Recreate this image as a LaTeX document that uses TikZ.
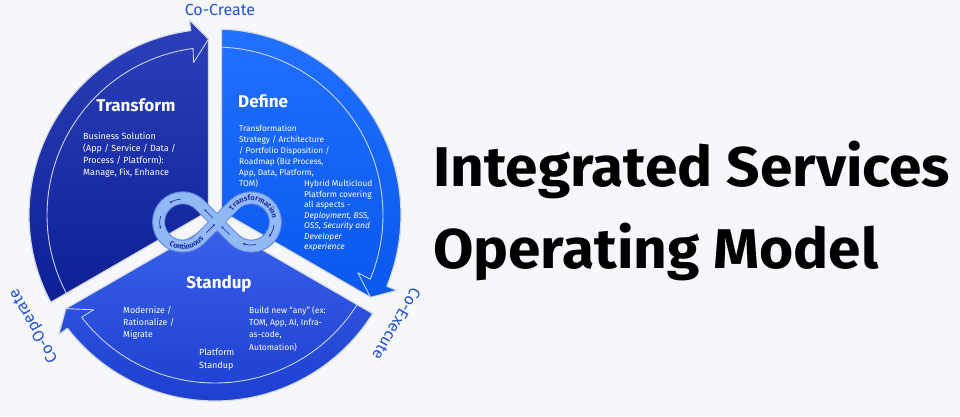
\documentclass[tikz,border=0pt]{standalone}
\usepackage{fontspec}
\setmainfont{Fira Sans}
\usepackage{xcolor}
\usetikzlibrary{arrows.meta, decorations.text}

\definecolor{bgcol}{HTML}{F5F7FA}
\definecolor{trtop}{HTML}{2C40BA}
\definecolor{trbot}{HTML}{0C1F94}
\definecolor{dftop}{HTML}{2270FF}
\definecolor{dfbot}{HTML}{0A58EC}
\definecolor{sutop}{HTML}{3A62EA}
\definecolor{subot}{HTML}{1C3FCF}
\definecolor{edgecol}{HTML}{D3D8E4}
\definecolor{linecol}{HTML}{C5D3F5}
\definecolor{cocol}{HTML}{2352D6}
\definecolor{loopfill}{HTML}{93B8F6}
\definecolor{loopedge}{HTML}{5A86E2}
\definecolor{loopink}{HTML}{1A2F9E}

\begin{document}
\begin{tikzpicture}[x=1pt, y=1pt]
    % Define styles
    \tikzstyle{wedgeedge} = [draw=edgecol, line width=1.2pt, line join=round]
    \tikzstyle{innerline} = [draw=linecol, line width=0.9pt, line join=round]
    \tikzstyle{phasetitle} = [text=white, inner sep=0pt, font=\fontsize{17}{20}\selectfont\bfseries]
    \tikzstyle{detail} = [text=white, align=left, anchor=north west, inner sep=0pt]
    \tikzstyle{cylabel} = [text=cocol, inner sep=0pt, font=\fontsize{16}{18}\selectfont]
    \tikzstyle{headline} = [anchor=base west, inner sep=0pt, font=\fontsize{56}{60}\selectfont\bfseries]
    \tikzstyle{looparrow} = [draw=loopink, line width=0.7pt, -{Stealth[length=2.6pt, width=2.4pt]}]

    % Background
    \fill[bgcol] (-215,-201) rectangle (745,215);

    % Transform wedge
    \path[wedgeedge, top color=trtop, bottom color=trbot] (150:7.5) -- (208:186) arc[start angle=208, end angle=97.5, radius=186] -- (97.5:197) -- (92.1:176.1) -- cycle;
    \draw[innerline] (207.8:168) arc[start angle=207.8, end angle=97.5, radius=168] -- (98:154) -- (92.1:176.1);

    % Define wedge
    \path[wedgeedge, top color=dftop, bottom color=dfbot] (30:7.5) -- (88:186) arc[start angle=88, end angle=-22.5, radius=186] -- (-22.5:197) -- (-27.9:176.1) -- cycle;
    \draw[innerline] (87.8:168) arc[start angle=87.8, end angle=-22.5, radius=168] -- (-22:154) -- (-27.9:176.1);

    % Standup wedge
    \path[wedgeedge, top color=sutop, bottom color=subot] (-90:7.5) -- (-32:186) arc[start angle=-32, end angle=-142.5, radius=186] -- (-142.5:197) -- (-147.9:176.1) -- cycle;
    \draw[innerline] (-32.2:168) arc[start angle=-32.2, end angle=-142.5, radius=168] -- (-142:154) -- (-147.9:176.1);

    % Cycle labels
    \node[cylabel] (cocreate) at (5,205) {Co-Create};
    \node[cylabel, rotate=-120] (coexecute) at (-31:212) {Co-Execute};
    \node[cylabel, rotate=120] (cooperate) at (211.5:212) {Co-Operate};

    % Continuous transformation loop
    \coordinate (O) at (2,-7);
    \coordinate (rc) at (36.2,-7);
    \coordinate (lc) at (-32.2,-7);
    \draw[draw=loopfill, line width=11pt, line join=round, preaction={draw=loopedge, line width=13pt}] (O) -- ++(45:24.2) arc[start angle=135, end angle=-135, radius=24.2] -- (O) -- ++(135:24.2) arc[start angle=45, end angle=315, radius=24.2] -- cycle;
    \path[shift={(rc)}, decorate, decoration={text along path, text align=center, text={|\fontsize{7.4}{8}\selectfont\bfseries\color{loopink}|Transformation}}] (178:21.4) arc[start angle=178, end angle=-20, radius=21.4];
    \path[shift={(lc)}, decorate, decoration={text along path, text align=center, text={|\fontsize{7.4}{8}\selectfont\bfseries\color{loopink}|Continuous}}] (190:27.2) arc[start angle=190, end angle=370, radius=27.2];
    \draw[looparrow, shift={(lc)}] (95:23) arc[start angle=95, end angle=125, radius=23];
    \draw[looparrow, shift={(lc)}] (165:23) arc[start angle=165, end angle=197, radius=23];
    \draw[looparrow, shift={(O)}] (135:6) -- (135:18);
    \draw[looparrow, shift={(O)}] (225:15) -- (225:3);
    \draw[looparrow, shift={(O)}] (-45:18) -- (-45:6);
    \draw[looparrow, shift={(rc)}] (-8:23) arc[start angle=-8, end angle=-40, radius=23];
    \draw[looparrow, shift={(rc)}] (-78:23) arc[start angle=-78, end angle=-112, radius=23];

    % Transform texts
    \node[phasetitle] (transform) at (-79,110) {Transform};
    \node[detail, font=\fontsize{9}{12}\selectfont] (transformtext) at (-132,83) {Business Solution\\(App / Service / Data /\\Process / Platform):\\Manage, Fix, Enhance};

    % Define texts
    \node[phasetitle, anchor=west] (define) at (23,114) {Define};
    \node[detail, font=\fontsize{8.3}{11}\selectfont] (definetext) at (24,90) {Transformation\\Strategy / Architecture\\/ Portfolio Disposition /\\Roadmap (Biz Process,\\App, Data, Platform,\\TOM)};
    \node[detail, font=\fontsize{8.4}{10.5}\selectfont] (hybridtext) at (89,35) {Hybrid Multicloud\\Platform covering\\all aspects -\\\textit{Deployment, BSS,}\\\textit{OSS, Security and}\\\textit{Developer}\\\textit{experience}};

    % Standup texts
    \node[phasetitle] (standup) at (4,-69) {Standup};
    \node[detail, font=\fontsize{8.8}{12}\selectfont] (modernize) at (-92,-91) {Modernize /\\Rationalize /\\Migrate};
    \node[detail, font=\fontsize{8.5}{12.3}\selectfont] (buildnew) at (34,-91) {Build new “any” (ex:\\TOM, App, AI, Infra-\\as-code,\\Automation)};
    \node[detail, font=\fontsize{9}{13}\selectfont] (platform) at (-16,-134) {Platform\\Standup};

    % Title
    \node[headline] (titleone) at (218,29) {\scalebox{1.046}[1]{Integrated Services}};
    \node[headline] (titletwo) at (218,-53) {\scalebox{1.046}[1]{Operating Model}};
\end{tikzpicture}
\end{document}
